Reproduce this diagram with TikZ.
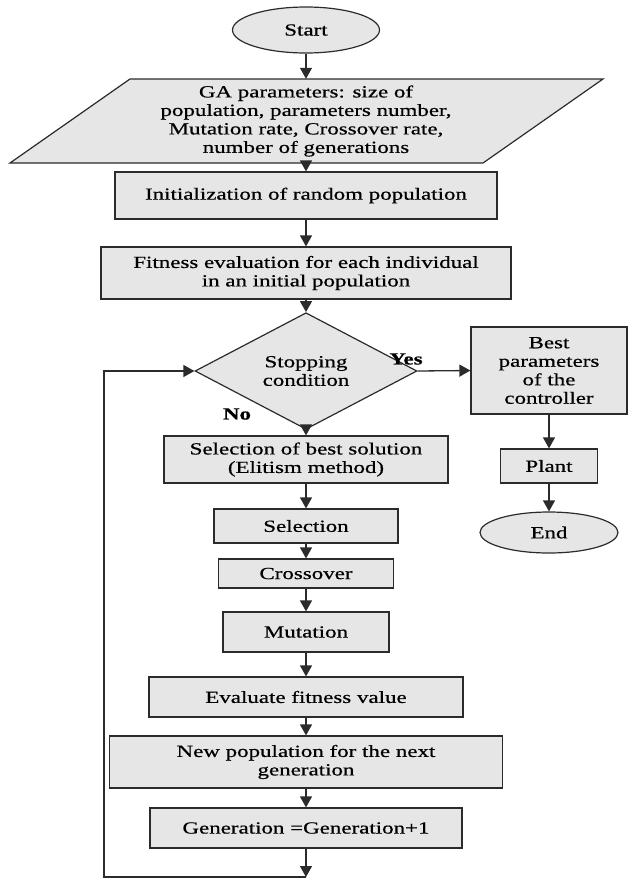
\documentclass[tikz,border=0pt]{standalone}
\usepackage{fontspec}
\setmainfont{Liberation Serif}[FakeStretch=1.35,FakeBold=0.6]
\usetikzlibrary{positioning,shapes.geometric,arrows.meta}
\definecolor{boxgray}{HTML}{E6E6E6}
\definecolor{linegray}{HTML}{2B2B2B}

\begin{document}
\begin{tikzpicture}[x=1pt,y=-1pt,
  font=\fontsize{17}{18.5}\selectfont,
  box/.style={draw=linegray,fill=boxgray,line width=1.2pt,inner sep=0pt,align=center},
  terminal/.style={box,ellipse},
  decision/.style={box,diamond},
  flow/.style={draw=linegray,line width=1.3pt,-{Triangle[length=11pt,width=12pt]}},
  tag/.style={font=\fontsize{17}{18.5}\selectfont\bfseries}]
\useasboundingbox (0,0) rectangle (628,879);

\def\xm{306}
\def\xr{549}
\def\xl{104}
\def\yb{877}

\def\pa{130}
\def\pb{603}
\def\pc{483}
\def\pd{10}
\def\ptop{79}
\def\pbot{163}

\node[terminal,minimum width=147pt,minimum height=46pt] (start) at (\xm,30) {Start};

\filldraw[draw=linegray,fill=boxgray,line width=1.2pt] (\pa,\ptop) -- (\pb,\ptop) -- (\pc,\pbot) -- (\pd,\pbot) -- cycle;
\node[align=center,inner sep=0pt,minimum height=84pt] (params) at (\xm,121)
  {GA parameters: size of\\population, parameters number,\\Mutation rate, Crossover rate,\\number of generations};

\node[box,minimum width=382pt,minimum height=47pt] (init) at (\xm,195.5) {Initialization of random population};
\node[box,minimum width=410pt,minimum height=52pt] (fit) at (\xm,273) {Fitness evaluation for each individual\\in an initial population};
\node[decision,minimum width=222pt,minimum height=98pt] (cond) at (\xm,371) {Stopping\\condition};

\node[box,minimum width=156pt,minimum height=87pt] (best) at (\xr,370.5) {Best\\parameters\\of the\\controller};
\node[box,minimum width=97pt,minimum height=34pt] (plant) at (\xr,466) {Plant};
\node[terminal,minimum width=138pt,minimum height=41pt] (end) at (\xr,532.5) {End};

\node[box,minimum width=284pt,minimum height=47pt] (selbest) at (\xm,459.5) {Selection of best solution\\(Elitism method)};
\node[box,minimum width=184pt,minimum height=34pt] (sel) at (\xm,526) {Selection};
\node[box,minimum width=175pt,minimum height=29pt] (cross) at (\xm,573.5) {Crossover};
\node[box,minimum width=166pt,minimum height=40pt] (mut) at (\xm,632) {Mutation};
\node[box,minimum width=314pt,minimum height=40pt] (evalf) at (\xm,697) {Evaluate fitness value};
\node[box,minimum width=393pt,minimum height=52pt] (newpop) at (\xm,762) {New population for the next\\generation};
\node[box,minimum width=312pt,minimum height=40pt] (gen) at (\xm,828) {Generation =Generation+1};

\coordinate (loop) at (\xm,\yb);
\coordinate (corner) at (\xl,\yb);

\node[tag] (yes) at (406,359) {Yes};
\node[tag] (no) at (237,414) {No};

\draw[flow] (start.south) -- (params.north);
\draw[flow] (params.south) -- (init.north);
\draw[flow] (init.south) -- (fit.north);
\draw[flow] (fit.south) -- (cond.north);
\draw[flow] (cond.east) -- (best.west);
\draw[flow] (best.south) -- (plant.north);
\draw[flow] (plant.south) -- (end.north);
\draw[flow] (cond.south) -- (selbest.north);
\draw[flow] (selbest.south) -- (sel.north);
\draw[flow] (sel.south) -- (cross.north);
\draw[flow] (cross.south) -- (mut.north);
\draw[flow] (mut.south) -- (evalf.north);
\draw[flow] (evalf.south) -- (newpop.north);
\draw[flow] (newpop.south) -- (gen.north);
\draw[flow] (gen.south) -- (loop);
\draw[flow] (loop) -- (corner) |- (cond.west);

\end{tikzpicture}
\end{document}
